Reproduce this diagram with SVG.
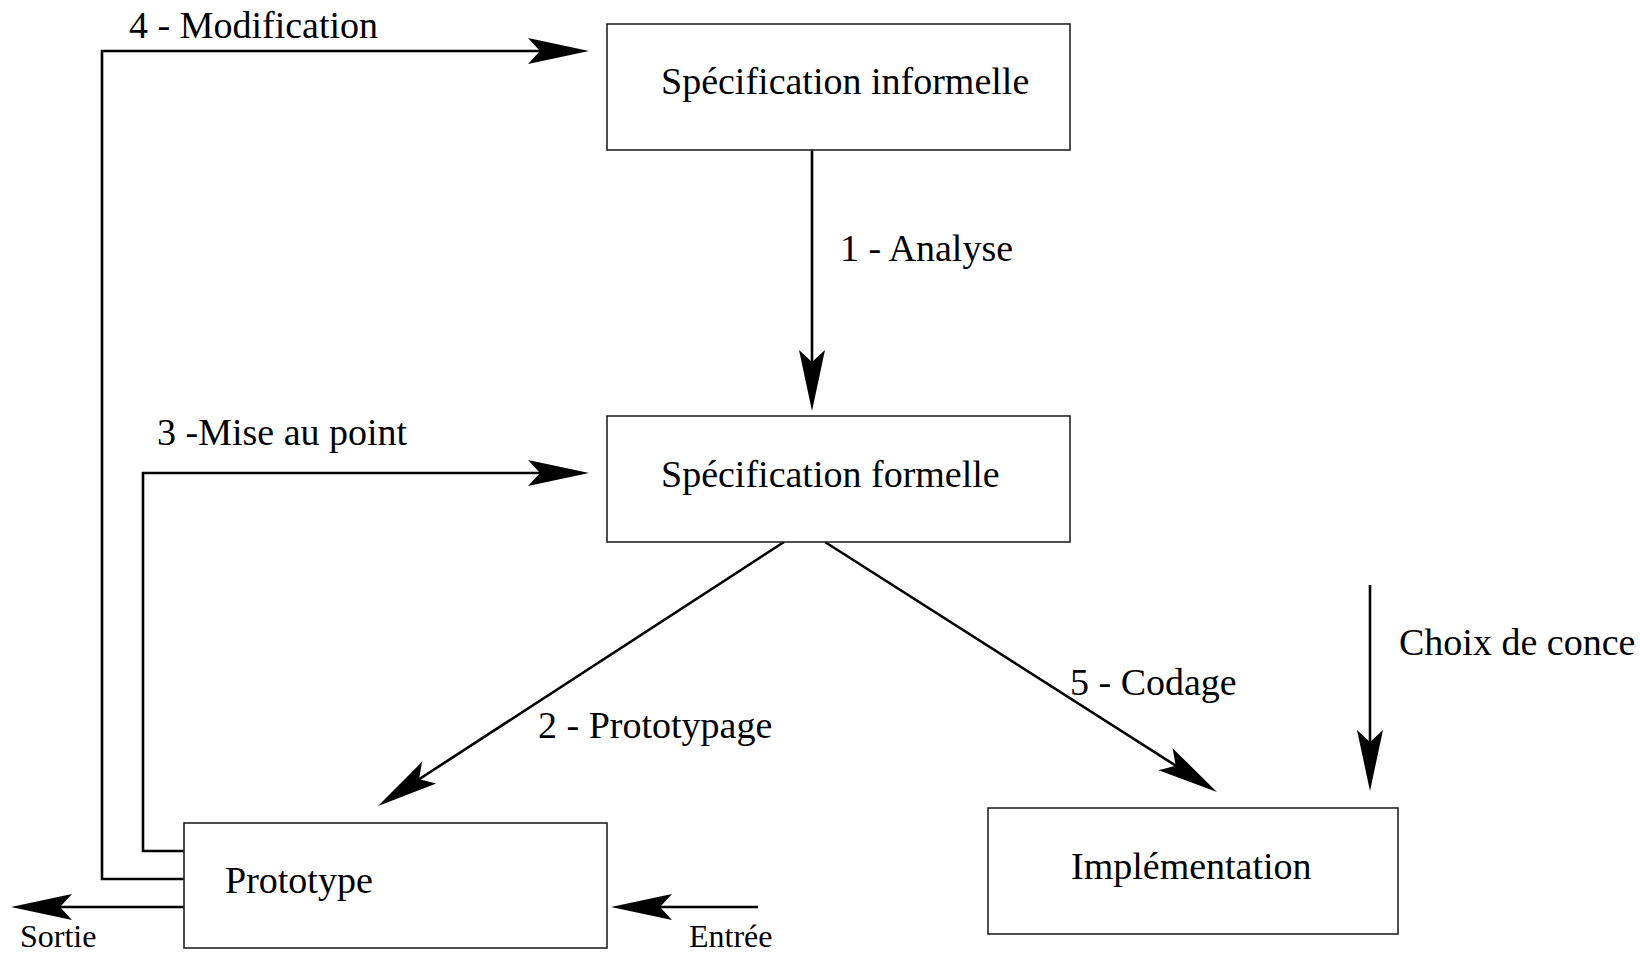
<svg xmlns="http://www.w3.org/2000/svg" width="1640" height="955" viewBox="0 0 1640 955">
<style>
.box{fill:#fff;stroke:#222;stroke-width:1.6}
.t{font-family:"Liberation Serif","Times New Roman",serif;font-size:38px;fill:#000}
.s{font-family:"Liberation Serif","Times New Roman",serif;font-size:32px;fill:#000}
.c{fill:none;stroke:#000;stroke-width:2.6}
</style>
<defs>
<marker id="ah" markerUnits="userSpaceOnUse" viewBox="-62 -14 64 28" markerWidth="64" markerHeight="28" refX="-10" refY="0" orient="auto">
<path d="M0,0 L-61,-13 L-49,0 L-61,13 Z" fill="#000"/>
</marker>
</defs>
<rect width="1640" height="955" fill="#fff"/>
<g id="connectors">
<path class="c" d="M812,150 V401" marker-end="url(#ah)"/>
<path class="c" d="M784,542 L386.4,800.5" marker-end="url(#ah)"/>
<path class="c" d="M825,542 L1208.6,786.6" marker-end="url(#ah)"/>
<path class="c" d="M1370,585 V781" marker-end="url(#ah)"/>
<path class="c" d="M184,879 H102 V51 H579" marker-end="url(#ah)"/>
<path class="c" d="M184,851 H143 V473 H579" marker-end="url(#ah)"/>
<path class="c" d="M184,907 H21" marker-end="url(#ah)"/>
<path class="c" d="M758,907 H621" marker-end="url(#ah)"/>
<text class="t" x="840" y="261">1 - Analyse</text>
<text class="t" x="538" y="738">2 - Prototypage</text>
<text class="t" x="157" y="445">3 -Mise au point</text>
<text class="t" x="129" y="38">4 - Modification</text>
<text class="t" x="1070" y="695">5 - Codage</text>
<text class="t" x="1399" y="655">Choix de conce</text>
<text class="s" x="20" y="947">Sortie</text>
<text class="s" x="689" y="947">Entrée</text>
</g>
<g id="spec-informelle">
<rect class="box" x="607" y="24" width="463" height="126"/>
<text class="t" x="661" y="94">Spécification informelle</text>
</g>
<g id="spec-formelle">
<rect class="box" x="607" y="416" width="463" height="126"/>
<text class="t" x="661" y="487">Spécification formelle</text>
</g>
<g id="prototype">
<rect class="box" x="184" y="823" width="423" height="125"/>
<text class="t" x="225" y="893">Prototype</text>
</g>
<g id="implementation">
<rect class="box" x="988" y="808" width="410" height="126"/>
<text class="t" x="1071" y="879">Implémentation</text>
</g>
</svg>
